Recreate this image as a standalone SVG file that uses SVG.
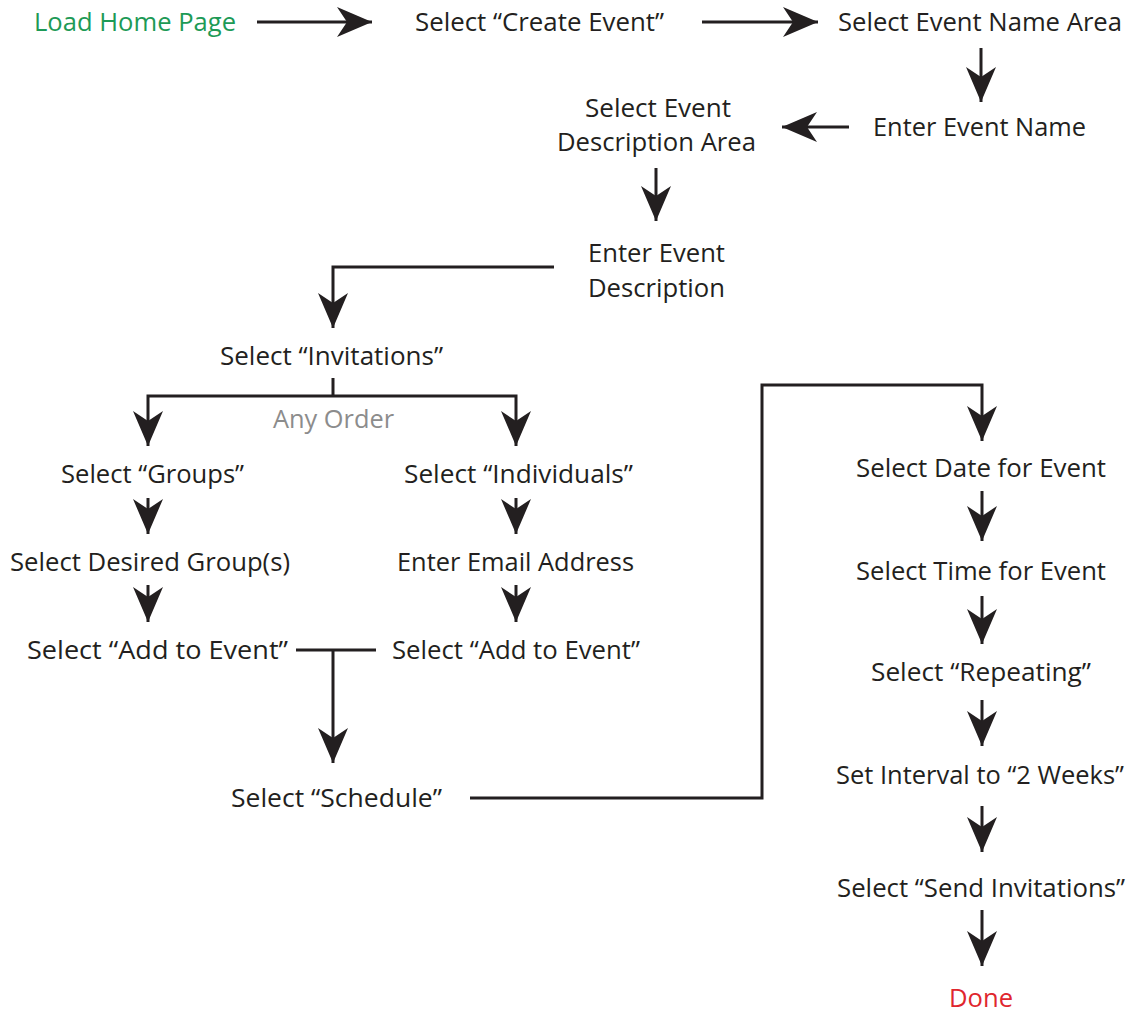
<svg xmlns="http://www.w3.org/2000/svg" width="1134" height="1012" viewBox="0 0 1134 1012">
<defs>
<marker id="ah" markerUnits="userSpaceOnUse" markerWidth="40" markerHeight="40" viewBox="-30 -15 32 30" refX="0" refY="0" orient="auto">
<path d="M0,0 L-28,-12 L-20,0 L-28,12 Z" fill="#231f20"/>
</marker>
<style>
text{font-family:"Open Sans","Liberation Sans",sans-serif;font-size:25px;font-weight:500;fill:#231f20}
.c{fill:none;stroke:#231f20;stroke-width:3}
.a{marker-end:url(#ah)}
.green{fill:#1d9a56}
.red{fill:#e0262e}
.gray{fill:#8c8c8c}
</style>
</defs>
<rect width="1134" height="1012" fill="#fff"/>
<g id="connectors">
<line class="c a" x1="257" y1="22" x2="372" y2="22"/>
<line class="c a" x1="702" y1="22" x2="818" y2="22"/>
<line class="c a" x1="981" y1="48" x2="981" y2="102"/>
<line class="c a" x1="849" y1="127" x2="782" y2="127"/>
<line class="c a" x1="656" y1="168" x2="656" y2="221"/>
<polyline class="c a" points="554,267 333,267 333,328"/>
<line class="c" x1="333" y1="378" x2="333" y2="396"/>
<polyline class="c a" points="333,396 148,396 148,446"/>
<polyline class="c a" points="333,396 516,396 516,446"/>
<line class="c a" x1="148" y1="498" x2="148" y2="534"/>
<line class="c a" x1="516" y1="498" x2="516" y2="534"/>
<line class="c a" x1="148" y1="585" x2="148" y2="622"/>
<line class="c a" x1="516" y1="585" x2="516" y2="622"/>
<line class="c" x1="296" y1="650" x2="376" y2="650"/>
<line class="c a" x1="333" y1="650" x2="333" y2="763"/>
<polyline class="c a" points="470,798 762,798 762,385 982,385 982,441"/>
<line class="c a" x1="982" y1="491" x2="982" y2="541"/>
<line class="c a" x1="982" y1="596" x2="982" y2="644"/>
<line class="c a" x1="982" y1="700" x2="982" y2="746"/>
<line class="c a" x1="982" y1="806" x2="982" y2="852"/>
<line class="c a" x1="982" y1="910" x2="982" y2="966"/>
</g>
<g id="n-load"><text class="green" x="34" y="31" textLength="202" lengthAdjust="spacingAndGlyphs">Load Home Page</text></g>
<g id="n-create"><text x="415" y="31" textLength="249" lengthAdjust="spacingAndGlyphs">Select “Create Event”</text></g>
<g id="n-namearea"><text x="838" y="31" textLength="284" lengthAdjust="spacingAndGlyphs">Select Event Name Area</text></g>
<g id="n-entername"><text x="873" y="136" textLength="213" lengthAdjust="spacingAndGlyphs">Enter Event Name</text></g>
<g id="n-descarea"><text x="585" y="117" textLength="146" lengthAdjust="spacingAndGlyphs">Select Event</text><text x="557" y="151" textLength="199" lengthAdjust="spacingAndGlyphs">Description Area</text></g>
<g id="n-enterdesc"><text x="588" y="262" textLength="137" lengthAdjust="spacingAndGlyphs">Enter Event</text><text x="588" y="297" textLength="137" lengthAdjust="spacingAndGlyphs">Description</text></g>
<g id="n-invitations"><text x="220" y="365" textLength="223" lengthAdjust="spacingAndGlyphs">Select “Invitations”</text></g>
<g id="n-anyorder"><text class="gray" x="273" y="428" textLength="121" lengthAdjust="spacingAndGlyphs">Any Order</text></g>
<g id="n-groups"><text x="61" y="483" textLength="183" lengthAdjust="spacingAndGlyphs">Select “Groups”</text></g>
<g id="n-individuals"><text x="404" y="483" textLength="229" lengthAdjust="spacingAndGlyphs">Select “Individuals”</text></g>
<g id="n-desired"><text x="10" y="571" textLength="280" lengthAdjust="spacingAndGlyphs">Select Desired Group(s)</text></g>
<g id="n-email"><text x="397" y="571" textLength="237" lengthAdjust="spacingAndGlyphs">Enter Email Address</text></g>
<g id="n-add1"><text x="27" y="659" textLength="261" lengthAdjust="spacingAndGlyphs">Select “Add to Event”</text></g>
<g id="n-add2"><text x="392" y="659" textLength="248" lengthAdjust="spacingAndGlyphs">Select “Add to Event”</text></g>
<g id="n-schedule"><text x="231" y="807" textLength="211" lengthAdjust="spacingAndGlyphs">Select “Schedule”</text></g>
<g id="n-date"><text x="856" y="477" textLength="250" lengthAdjust="spacingAndGlyphs">Select Date for Event</text></g>
<g id="n-time"><text x="856" y="580" textLength="250" lengthAdjust="spacingAndGlyphs">Select Time for Event</text></g>
<g id="n-repeating"><text x="871" y="681" textLength="220" lengthAdjust="spacingAndGlyphs">Select “Repeating”</text></g>
<g id="n-interval"><text x="836" y="784" textLength="288" lengthAdjust="spacingAndGlyphs">Set Interval to “2 Weeks”</text></g>
<g id="n-send"><text x="837" y="897" textLength="288" lengthAdjust="spacingAndGlyphs">Select “Send Invitations”</text></g>
<g id="n-done"><text class="red" x="949" y="1007" textLength="64" lengthAdjust="spacingAndGlyphs">Done</text></g>
</svg>
